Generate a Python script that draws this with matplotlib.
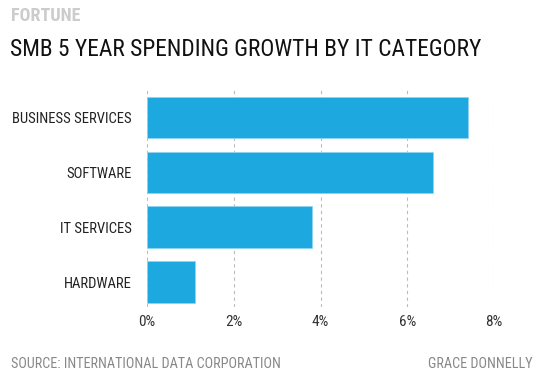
import matplotlib
matplotlib.use("Agg")
import matplotlib.pyplot as plt
from matplotlib.ticker import FuncFormatter

categories = ["BUSINESS SERVICES", "SOFTWARE", "IT SERVICES", "HARDWARE"]
values = [7.4, 6.6, 3.8, 1.1]
xticks = [0, 2, 4, 6, 8]

FONT = ["Roboto Condensed", "Roboto", "DejaVu Sans"]
plt.rcParams["font.family"] = FONT

W, H = 545, 383
fig = plt.figure(figsize=(W / 100, H / 100), dpi=100)
ax = fig.add_axes([147 / W, 1 - 307 / H, 347 / W, 217 / H])

ypos = list(range(len(categories)))
ax.barh(ypos, values, height=0.76, color="#1DA9E0", edgecolor="#8FD3F0", linewidth=0.6, zorder=3)
ax.set_xlim(0, 8)
ax.set_ylim(3.45, -0.5)
ax.set_yticks(ypos)
ax.set_yticklabels(categories, fontsize=10.5, color="#222222")
ax.set_xticks(xticks)
ax.xaxis.set_major_formatter(FuncFormatter(lambda v, p: f"{v:.0f}%"))
ax.tick_params(axis="x", labelsize=11, colors="#333333", length=0, pad=6)
ax.tick_params(axis="y", length=0, pad=11)
ax.grid(axis="x", color="#BBBBBB", linestyle=(0, (3, 3)), linewidth=0.8, zorder=0)
for s in ax.spines.values():
    s.set_visible(False)

fig.text(11 / W, 1 - 16 / H, "FORTUNE", fontsize=13, fontweight="bold", color="#CCCCCC", va="center", ha="left")
fig.text(10 / W, 1 - 50 / H, "SMB 5 YEAR SPENDING GROWTH BY IT CATEGORY", fontsize=16.8, color="#111111", va="center", ha="left")
fig.text(11 / W, 1 - 364 / H, "SOURCE: INTERNATIONAL DATA CORPORATION", fontsize=10.2, color="#888888", va="center", ha="left")
fig.text(533 / W, 1 - 364 / H, "GRACE DONNELLY", fontsize=10.2, color="#888888", va="center", ha="right")

fig.savefig("out.png", dpi=100)
